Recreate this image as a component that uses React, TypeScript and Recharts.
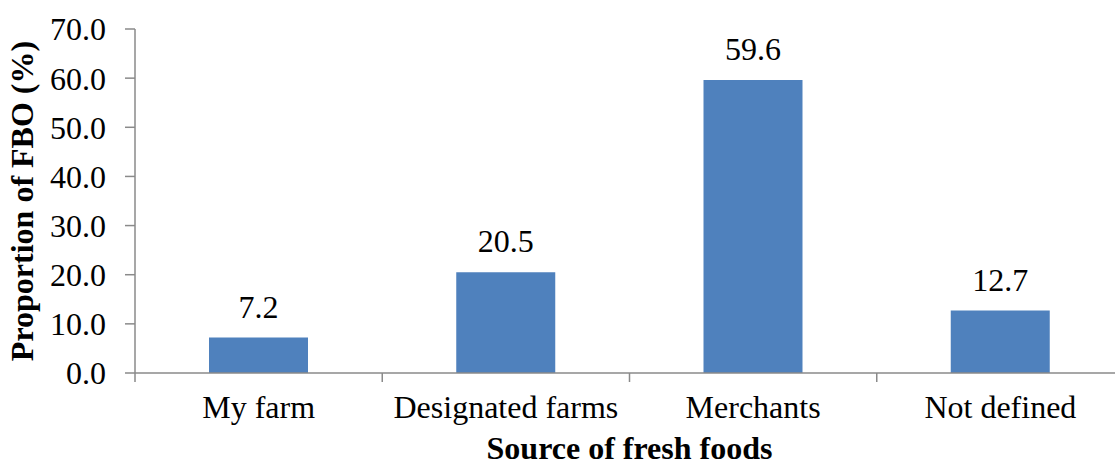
import React from 'react'
import { BarChart, Bar, XAxis, YAxis, LabelList } from 'recharts'

const sources = ['My farm', 'Designated farms', 'Merchants', 'Not defined']
const shares = [7.2, 20.5, 59.6, 12.7]
const yTicks = [0, 10, 20, 30, 40, 50, 60, 70]

const FONT = '"Liberation Serif", "Times New Roman", serif'
const TEXT_SIZE = 32
const TITLE_SIZE = 32
const AXIS_COLOR = '#8a8a8a'
const BAR_COLOR = '#4f81bd'

const CHART_W = 1130
const CHART_H = 466
const Y_AXIS_W = 135
const MARGIN = { top: 29, right: 6, bottom: 0, left: 0 }
const PLOT_W = CHART_W - Y_AXIS_W - MARGIN.left - MARGIN.right
const LABEL_GAP = 22
const X_TICK_LEN = 9

const data = sources.map((name, i) => ({ name, value: shares[i] }))

// category labels, with the tick marks drawn on the band edges instead of centres
const CategoryTick = (props: any) => {
  const { x, y, payload, index, visibleTicksCount } = props
  const count = visibleTicksCount ?? sources.length
  const band = (props.width ?? PLOT_W) / count
  const axisY = y - LABEL_GAP
  const edge = (ex: number) => (
    <line x1={ex} x2={ex} y1={axisY} y2={axisY + X_TICK_LEN} stroke={AXIS_COLOR} strokeWidth={1.5} />
  )
  return (
    <g>
      {edge(x - band / 2)}
      {index === count - 1 && edge(x + band / 2)}
      <text x={x} y={y} dy="0.71em" textAnchor="middle" fill="#000" fontSize={TEXT_SIZE} fontFamily={FONT}>
        {payload.value}
      </text>
    </g>
  )
}

export default function App() {
  return (
    <div style={{ position: 'absolute', left: 0, top: 0, width: 1115, height: 466, overflow: 'hidden', background: '#fff' }}>
      <BarChart width={CHART_W} height={CHART_H} data={data} margin={MARGIN}>
        <XAxis
          dataKey="name"
          height={93}
          interval={0}
          tickSize={0}
          tickMargin={LABEL_GAP}
          tickLine={false}
          tick={<CategoryTick />}
          axisLine={{ stroke: AXIS_COLOR, strokeWidth: 1.5 }}
          label={{
            value: 'Source of fresh foods',
            position: 'insideBottom',
            offset: 7,
            style: { fontFamily: FONT, fontSize: TITLE_SIZE, fontWeight: 'bold', fill: '#000' },
          }}
        />
        <YAxis
          width={Y_AXIS_W}
          domain={[0, 70]}
          ticks={yTicks}
          interval={0}
          tickSize={10}
          tickMargin={19}
          tickFormatter={(v: number) => v.toFixed(1)}
          tick={{ fontFamily: FONT, fontSize: TEXT_SIZE, fill: '#000' }}
          tickLine={{ stroke: AXIS_COLOR, strokeWidth: 1.5 }}
          axisLine={{ stroke: AXIS_COLOR, strokeWidth: 1.5 }}
          label={{
            value: 'Proportion of FBO (%)',
            angle: -90,
            position: 'insideLeft',
            offset: 22,
            style: { textAnchor: 'middle', fontFamily: FONT, fontSize: TITLE_SIZE, fontWeight: 'bold', fill: '#000' },
          }}
        />
        <Bar dataKey="value" fill={BAR_COLOR} barSize={99} isAnimationActive={false}>
          <LabelList
            dataKey="value"
            position="top"
            offset={20}
            formatter={(v: any) => Number(v).toFixed(1)}
            style={{ fontFamily: FONT, fontSize: TEXT_SIZE, fill: '#000' }}
          />
        </Bar>
      </BarChart>
    </div>
  )
}
